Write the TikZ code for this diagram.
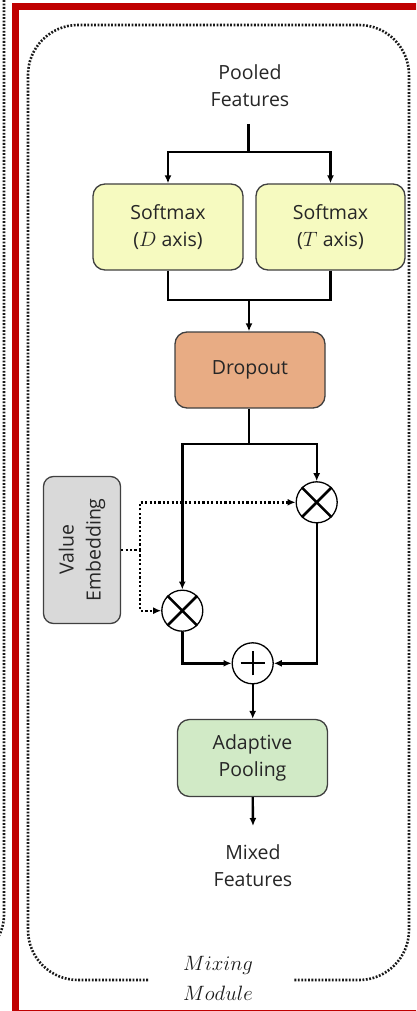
\documentclass[tikz,border=0pt]{standalone}
\usepackage{fontspec}
\setmainfont{Open Sans}
\usetikzlibrary{arrows.meta}
\definecolor{redframe}{HTML}{C00000}
\definecolor{softy}{HTML}{F6FAC0}
\definecolor{dropo}{HTML}{E8AC84}
\definecolor{poolg}{HTML}{D1EAC6}
\definecolor{valg}{HTML}{D9D9D9}
\definecolor{edgeg}{HTML}{404040}
\begin{document}
\begin{tikzpicture}[x=1pt,y=-1pt,
  txt/.style={font=\fontsize{19.5}{27}\selectfont, text=black!85, align=center},
  blk/.style={draw=edgeg, line width=1.3pt, rounded corners=12pt, inner sep=0pt, txt},
  conn/.style={line width=2.4pt, black},
  arr/.style={conn, -{Latex[length=8pt,width=7pt]}},
  dots/.style={line width=2.4pt, dash pattern=on 2.2pt off 2.2pt, black},
  dotarr/.style={dots, -{Latex[length=8pt,width=7pt]}},
  frame/.style={line width=2.6pt, dash pattern=on 1.8pt off 1.6pt, black!90},
  op/.style={circle, draw=black, line width=1.3pt, fill=white, minimum size=41pt, inner sep=0pt}
]
\useasboundingbox (0,0) rectangle (416,1011);
\clip (0,0) rectangle (416,1011);
% outer left dotted frame
\draw[frame, rounded corners=45pt] (4,-10) -- (4,960) -- (-60,960);
% red frame
\draw[redframe, line width=7pt] (15.5,7) rectangle (440,1013);
% inner dotted frame
\draw[frame, rounded corners=50pt] (148,980) -- (28,980) -- (28,25) -- (409,25) -- (409,980) -- (293,980);
\node[font=\fontsize{22}{30}\selectfont, align=center, text=black!90] (mm) at (218,978) {$Mixing$\\$Module$};

% nodes
\node[txt] (pf) at (250,86) {Pooled\\Features};
\node[blk, fill=softy, minimum width=150pt, minimum height=86pt] (sd) at (168,227) {Softmax\\($D$ axis)};
\node[blk, fill=softy, minimum width=149pt, minimum height=86pt] (st) at (330.5,227) {Softmax\\($T$ axis)};
\node[blk, fill=dropo, minimum width=150pt, minimum height=76pt] (dr) at (250,370) {Dropout};
\node[blk, fill=valg, minimum width=77pt, minimum height=147pt, rounded corners=10pt] (ve) at (82,550) {};
\node[txt, rotate=90] at (ve.center) {Value\\Embedding};
\node[op] (m2) at (316.7,502.3) {};
\node[op] (m1) at (182.3,610.7) {};
\node[op] (pl) at (252.7,663.3) {};
\node[blk, fill=poolg, minimum width=150pt, minimum height=77pt] (ap) at (252.5,758) {Adaptive\\Pooling};
\node[txt] (mf) at (253,866) {Mixed\\Features};

% operator glyphs
\draw[line width=2.6pt] (m2.45) -- (m2.225) (m2.135) -- (m2.315);
\draw[line width=2.6pt] (m1.45) -- (m1.225) (m1.135) -- (m1.315);
\draw[line width=2pt] ([yshift=-12pt]pl.center) -- ([yshift=12pt]pl.center)
  ([xshift=-12pt]pl.center) -- ([xshift=12pt]pl.center);

% connectors
\coordinate (sp) at (248.5,152);
\draw[conn] (248.5,124) -- (sp);
\draw[arr] (sp) -| (sd.north);
\draw[arr] (sp) -| (st.north);
\coordinate (jn) at (249,300);
\draw[conn] (sd.south) |- (jn);
\draw[conn] (st.south) |- (jn);
\draw[arr] (jn) -- (dr.north -| jn);
\coordinate (br) at (249,444);
\draw[conn] (dr.south -| br) -- (br);
\draw[arr] (br) -| (m1.north);
\draw[arr] (br) -| (m2.north);
\draw[arr] (m1.south) |- (pl.west);
\draw[arr] (m2.south) |- (pl.east);
\draw[arr] (pl.south) -- (ap.north -| pl.south);
\draw[arr] (ap.south -| pl.south) -- (253,826);

% dotted value connectors
\coordinate (vs) at (140,550);
\draw[dots] (ve.east |- vs) -- (vs);
\draw[dotarr] (vs) |- (m2.west);
\draw[dotarr] (vs) |- (m1.west);
\end{tikzpicture}
\end{document}
